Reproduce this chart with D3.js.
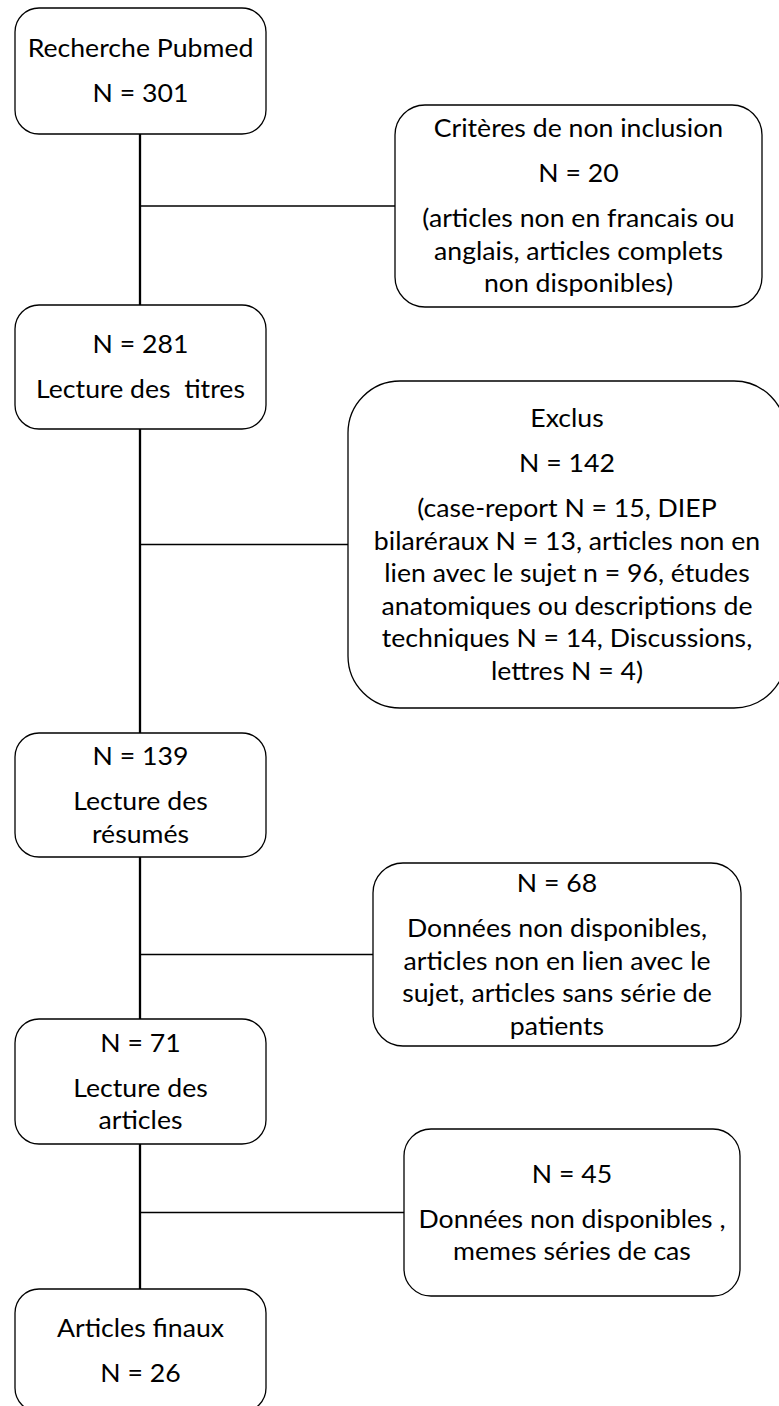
<!DOCTYPE html>
<html>
<head>
<meta charset="utf-8">
<script src="https://cdn.jsdelivr.net/npm/d3@7"></script>
<style>
  html, body { margin: 0; padding: 0; background: #fff; }
  svg text { white-space: pre; }
</style>
</head>
<body>
<div id="chart"></div>
<script>
// --- textes des étapes (paragraphes, lignes comme dans la figure) ---
const mainTexts = [
  [["Recherche Pubmed"], ["N = 301"]],
  [["N = 281"], ["Lecture des  titres"]],
  [["N = 139"], ["Lecture des", "résumés"]],
  [["N = 71"], ["Lecture des", "articles"]],
  [["Articles finaux"], ["N = 26"]]
];

const sideTexts = [
  [["Critères de non inclusion"], ["N = 20"],
   ["(articles non en francais ou", "anglais, articles complets", "non disponibles)"]],
  [["Exclus"], ["N = 142"],
   ["(case-report N = 15, DIEP", "bilaréraux N = 13, articles non en",
    "lien avec le sujet n = 96, études", "anatomiques ou descriptions de",
    "techniques N = 14, Discussions,", "lettres N = 4)"]],
  [["N = 68"],
   ["Données non disponibles,", "articles non en lien avec le",
    "sujet, articles sans série de", "patients"]],
  [["N = 45"], ["Données non disponibles ,", "memes séries de cas"]]
];

// --- mise en page (pixels) ---
const W = 779, H = 1406;
const spineX = 140;
const mainX = [15, 266];
const mainY = [[8, 134], [305, 429], [733, 857], [1019, 1144], [1289, 1412]];
const mainR = 24;
const sideBox = [
  {x0: 395, x1: 762, y0: 105, y1: 307, r: 30},
  {x0: 348, x1: 786, y0: 381, y1: 708, r: 52},
  {x0: 373, x1: 741, y0: 863, y1: 1046, r: 30},
  {x0: 404, x1: 740, y0: 1129, y1: 1296, r: 27}
];

const fontSize = 25.5;
const lineH = 32.5;
const paraGap = 12.5;
const squeeze = 1.045;

const svg = d3.select('#chart').append('svg')
  .attr('width', W).attr('height', H);

// connecteurs verticaux
svg.append('g').selectAll('line')
  .data(d3.pairs(mainY))
  .join('line')
  .attr('x1', spineX).attr('x2', spineX)
  .attr('y1', d => d[0][1]).attr('y2', d => d[1][0])
  .attr('stroke', '#000').attr('stroke-width', 2.3);

// branches horizontales
svg.append('g').selectAll('line')
  .data(sideBox)
  .join('line')
  .attr('x1', spineX).attr('x2', d => d.x0)
  .attr('y1', d => (d.y0 + d.y1) / 2).attr('y2', d => (d.y0 + d.y1) / 2)
  .attr('stroke', '#000').attr('stroke-width', 1.6);

const boxes = mainY.map((y, i) => ({x0: mainX[0], x1: mainX[1], y0: y[0], y1: y[1], r: mainR, paras: mainTexts[i]}))
  .concat(sideBox.map((b, i) => Object.assign({}, b, {paras: sideTexts[i]})));

const g = svg.append('g').selectAll('g')
  .data(boxes)
  .join('g');

g.append('rect')
  .attr('x', d => d.x0).attr('y', d => d.y0)
  .attr('width', d => d.x1 - d.x0).attr('height', d => d.y1 - d.y0)
  .attr('rx', d => d.r).attr('ry', d => d.r)
  .attr('fill', '#fff').attr('stroke', '#000').attr('stroke-width', 1.3);

g.each(function(d) {
  // positions des lignes, centrées verticalement
  const ys = [];
  let y = 0;
  d.paras.forEach((p, pi) => {
    if (pi > 0) y += paraGap;
    p.forEach((line, li) => {
      if (pi > 0 || li > 0) y += lineH;
      ys.push({line, y});
    });
  });
  const cx = (d.x0 + d.x1) / 2;
  const cy = (d.y0 + d.y1) / 2;
  const off = cy - y / 2;
  d3.select(this).append('g')
    .attr('transform', `translate(${cx},0) scale(${squeeze},1)`)
    .selectAll('text')
    .data(ys)
    .join('text')
    .attr('x', 0)
    .attr('y', t => t.y + off)
    .attr('dy', '0.35em')
    .attr('text-anchor', 'middle')
    .attr('font-family', 'Lato, "Open Sans", sans-serif')
    .attr('font-size', fontSize)
    .attr('fill', '#000')
    .text(t => t.line);
});
</script>
</body>
</html>
